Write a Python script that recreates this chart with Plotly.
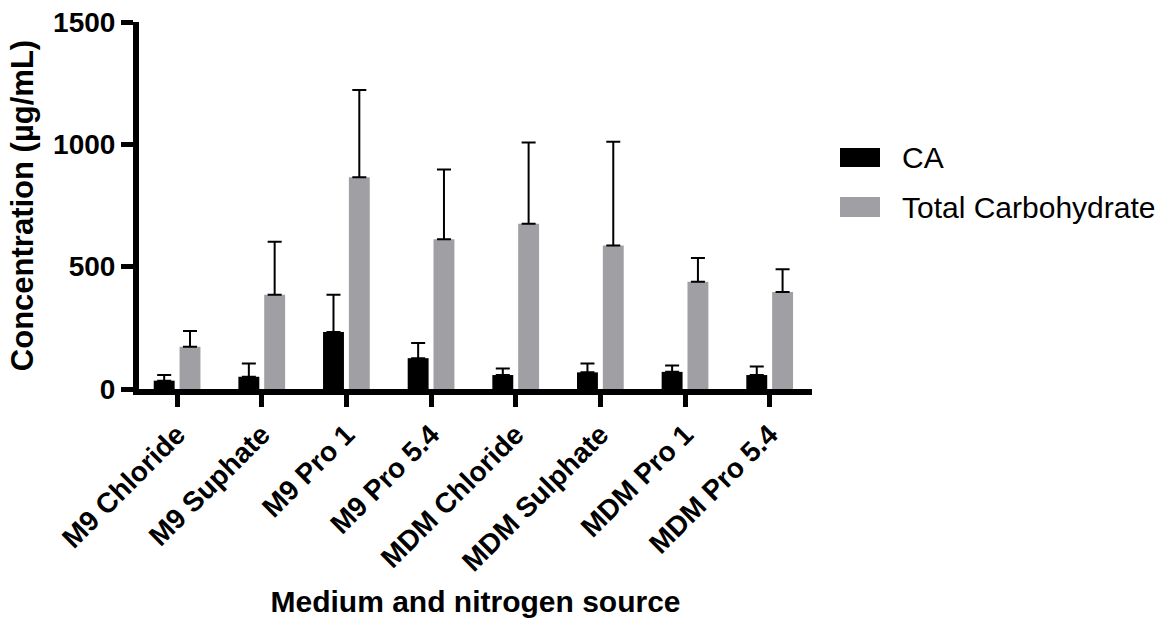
import plotly.graph_objects as go

categories = ["M9 Chloride", "M9 Suphate", "M9 Pro 1", "M9 Pro 5.4",
              "MDM Chloride", "MDM Sulphate", "MDM Pro 1", "MDM Pro 5.4"]
series_names = ["CA", "Total Carbohydrate"]
ca_values = [34, 50, 233, 126, 57, 68, 70, 57]
ca_errors = [23, 54, 152, 62, 27, 36, 26, 35]
tc_values = [173, 385, 865, 612, 675, 587, 438, 396]
tc_errors = [64, 217, 357, 285, 332, 424, 97, 93]
y_ticks = [0, 500, 1000, 1500]

colors = ["#000000", "#a0a0a4"]
FONT = "Liberation Sans, Arial, sans-serif"

fig = go.Figure()
for name, vals, errs, col in zip(series_names, [ca_values, tc_values],
                                 [ca_errors, tc_errors], colors):
    fig.add_trace(go.Bar(
        x=categories, y=vals, name=name,
        marker=dict(color=col, line=dict(width=0)),
        error_y=dict(type="data", array=errs, arrayminus=[0] * len(errs),
                     symmetric=False, color="#000000", thickness=2, width=7),
        showlegend=False,
    ))

L, R, T, B = 139, 351, 22, 229
W, H = 1163, 618
pw, ph = W - L - R, H - T - B

fig.update_layout(
    width=W, height=H,
    margin=dict(l=L, r=R, t=T, b=B, autoexpand=False),
    paper_bgcolor="white", plot_bgcolor="white",
    barmode="group", bargap=0.39, bargroupgap=0.19,
    font=dict(family=FONT, color="#000000"),
)
fig.update_xaxes(
    type="category", range=[-0.45, 7.5], automargin=False,
    showline=True, linewidth=6, linecolor="#000000",
    ticks="outside", ticklen=12, tickwidth=5, tickcolor="#000000",
    tickangle=-45, showgrid=False, zeroline=False,
    tickfont=dict(family=FONT, size=28, weight="bold", color="#000000"),
    title=dict(text="Medium and nitrogen source",
               font=dict(family=FONT, size=30, weight="bold", color="#000000"),
               standoff=18),
)
fig.update_yaxes(
    range=[0, 1500], tickvals=y_ticks, automargin=False,
    showline=True, linewidth=6, linecolor="#000000",
    ticks="outside", ticklen=12, tickwidth=5, tickcolor="#000000",
    showgrid=False, zeroline=False,
    tickfont=dict(family=FONT, size=28, weight="bold", color="#000000"),
    title=dict(text="Concentration (µg/mL)",
               font=dict(family=FONT, size=31, weight="bold", color="#000000"),
               standoff=12),
)

# manual legend (large swatches like the reference)
def px_x(px):
    return (px - L) / pw

def px_y(py):
    return (H - B - py) / ph

legend_rows = [(148, 167, 157.5), (197, 217, 207)]
for (y0, y1, yc), name, col in zip(legend_rows, series_names, colors):
    fig.add_shape(type="rect", xref="paper", yref="paper",
                  x0=px_x(840), x1=px_x(880), y0=px_y(y1), y1=px_y(y0),
                  fillcolor=col, line=dict(width=0))
    fig.add_annotation(xref="paper", yref="paper", x=px_x(900), y=px_y(yc),
                       text=name, showarrow=False, xanchor="left", yanchor="middle",
                       font=dict(family=FONT, size=30, color="#000000"))

fig.write_html("out.html", config={"displayModeBar": False},
               post_script="document.body.style.margin='0';document.body.style.overflow='hidden';")
